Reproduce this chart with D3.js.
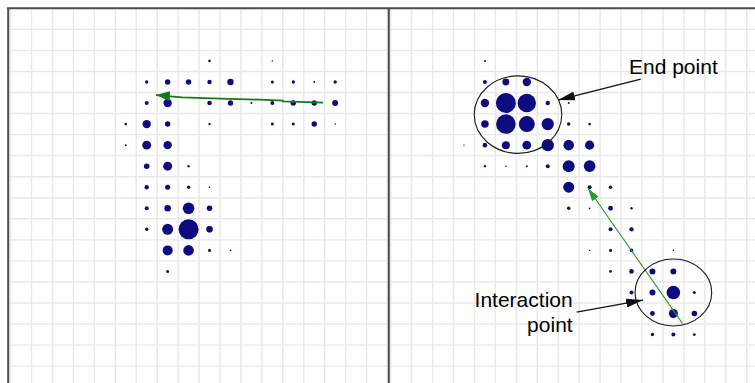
<!DOCTYPE html>
<html>
<head>
<meta charset="utf-8">
<script src="https://cdn.jsdelivr.net/npm/d3@7"></script>
<style>
  html, body { margin: 0; padding: 0; background: #fff; }
  svg { display: block; }
  text { font-family: "Liberation Sans", Arial, sans-serif; }
</style>
</head>
<body>
<svg id="chart" width="755" height="383"></svg>
<script>
// Hit maps on a cell grid: [column, row, hits]
const leftHits = [
  [9, 2, 1.7], [12, 2, 0.5],
  [6, 3, 2.9], [7, 3, 7.3], [8, 3, 7.3], [9, 3, 4.8], [10, 3, 10.2], [12, 3, 2.3], [13, 3, 2.9], [14, 3, 1], [15, 3, 2.9],
  [6, 4, 4], [7, 4, 17.6], [9, 4, 5.3], [10, 4, 7.3], [11, 4, 1], [12, 4, 4], [13, 4, 7.3], [14, 4, 7.3], [15, 4, 9],
  [5, 5, 1.7], [6, 5, 17.6], [7, 5, 7.3], [9, 5, 1.4], [12, 5, 2.3], [13, 5, 2.3], [14, 5, 7.3], [15, 5, 0.6],
  [5, 6, 1], [6, 6, 20], [7, 6, 17.6],
  [6, 7, 7.8], [7, 7, 20], [8, 7, 1.4],
  [6, 8, 4.8], [7, 8, 6.3], [8, 8, 2.9], [9, 8, 0.6],
  [6, 9, 4], [7, 9, 11], [8, 9, 34], [9, 9, 7.8],
  [6, 10, 2.9], [7, 10, 30], [8, 10, 100], [9, 10, 11],
  [7, 11, 25], [8, 11, 28], [9, 11, 2.3], [10, 11, 0.6],
  [7, 12, 2.3]
];

const rightHits = [
  [4, 2, 1],
  [4, 3, 4], [5, 3, 12], [6, 3, 17.6],
  [4, 4, 17.6], [5, 4, 100], [6, 4, 85], [7, 4, 4.8], [8, 4, 1],
  [4, 5, 14.4], [5, 5, 96], [6, 5, 64], [7, 5, 38], [8, 5, 3.2], [9, 5, 1.7],
  [3, 6, 0.5], [4, 6, 5.3], [5, 6, 16], [6, 6, 19.4], [7, 6, 38], [8, 6, 28], [9, 6, 21],
  [4, 7, 1.4], [5, 7, 0.6], [6, 7, 1], [7, 7, 4], [8, 7, 36], [9, 7, 34],
  [8, 8, 30], [9, 8, 4], [10, 8, 3.2],
  [8, 9, 2.9], [9, 9, 0.8], [10, 9, 5.8], [11, 9, 1.4],
  [10, 10, 4], [11, 10, 4.8],
  [9, 11, 0.5], [10, 11, 2.3], [11, 11, 3.2], [13, 11, 0.6],
  [10, 12, 2], [11, 12, 5.3], [12, 12, 9], [13, 12, 9],
  [11, 13, 4], [12, 13, 9], [13, 13, 46], [14, 13, 2.3],
  [12, 14, 5.8], [13, 14, 20], [14, 14, 7.8],
  [12, 15, 2.9], [13, 15, 4], [14, 15, 2]
];

// Tracked motion paths (cell units)
const leftTrack = [[14.93, 4.48], [13.0, 4.42], [13.0, 4.38], [11.9, 4.34], [10.0, 4.29], [8.2, 4.23], [6.94, 4.12]];
const rightTrack = [[13.93, 14.97], [9.42, 8.55]];

// Highlighted regions: [cx, cy, rx, ry] in cells
const regions = [[6.08, 5.05, 2.09, 1.84], [13.5, 13.5, 1.83, 1.59]];

// Callouts: label lines, text anchor cell, arrow from/to cells
const callouts = [
  { lines: ["End point"], anchor: "start", at: [11.38, 3.10], from: [11.94, 3.37], to: [7.99, 4.36] },
  { lines: ["Interaction", "point"], anchor: "end", at: [8.69, 14.18], from: [8.88, 14.43], to: [12.05, 13.86] }
];

const svg = d3.select("#chart");
const W = 755, H = 383;
const cols = 18, rows = 18;
const topY = 8.3;

const panels = [
  { hits: leftHits, track: leftTrack, trackW: 1.8, color: "#137d13", head: [14, 5],
    x: d3.scaleLinear().domain([0, cols]).range([10.6, 10.6 + cols * 20.94]), left: 8, right: 388.5 },
  { hits: rightHits, track: rightTrack, trackW: 1.1, color: "#2a9a2a", head: [13, 4],
    x: d3.scaleLinear().domain([0, cols]).range([390.7, 390.7 + cols * 20.94]), left: 389, right: W }
];
const y = d3.scaleLinear().domain([0, rows]).range([topY, topY + rows * 21.05]);
const r = d3.scaleSqrt().domain([0, 100]).range([0, 10]);

const defs = svg.append("defs");
function arrowMarker(id, color, len, half) {
  defs.append("marker")
    .attr("id", id)
    .attr("markerUnits", "userSpaceOnUse")
    .attr("viewBox", `0 ${-half} ${len} ${half * 2}`)
    .attr("refX", len).attr("refY", 0)
    .attr("markerWidth", len).attr("markerHeight", half * 2)
    .attr("orient", "auto")
    .append("path")
    .attr("d", `M0,${-half}L${len},0L0,${half}Z`)
    .attr("fill", color);
}

panels.forEach((p, i) => {
  const g = svg.append("g");
  const clipId = "clip" + i;
  defs.append("clipPath").attr("id", clipId)
    .append("rect").attr("x", p.left).attr("y", topY).attr("width", p.right - p.left).attr("height", H - topY);
  const grid = g.append("g").attr("clip-path", `url(#${clipId})`)
    .attr("stroke", "#e8e8e8").attr("stroke-width", 1.4);
  grid.selectAll("line.v").data(d3.range(0, cols + 1)).join("line")
    .attr("class", "v")
    .attr("x1", d => p.x(d)).attr("x2", d => p.x(d))
    .attr("y1", topY).attr("y2", H);
  grid.selectAll("line.h").data(d3.range(1, rows + 1)).join("line")
    .attr("class", "h")
    .attr("x1", p.left).attr("x2", p.right)
    .attr("y1", d => y(d)).attr("y2", d => y(d));

  g.append("g").selectAll("circle").data(p.hits).join("circle")
    .attr("cx", d => p.x(d[0] + 0.5))
    .attr("cy", d => y(d[1] + 0.5))
    .attr("r", d => r(d[2]))
    .attr("fill", "#0c0c80");

  arrowMarker("track" + i, p.color, p.head[0], p.head[1]);
  g.append("path")
    .datum(p.track)
    .attr("d", d3.line().x(d => p.x(d[0])).y(d => y(d[1])))
    .attr("fill", "none")
    .attr("stroke", p.color)
    .attr("stroke-width", p.trackW)
    .attr("marker-end", `url(#track${i})`);
});

// Annotations on the right panel
const xr = panels[1].x;
svg.append("g").selectAll("ellipse").data(regions).join("ellipse")
  .attr("cx", d => xr(d[0])).attr("cy", d => y(d[1]))
  .attr("rx", d => xr(d[2]) - xr(0)).attr("ry", d => y(d[3]) - y(0))
  .attr("fill", "none").attr("stroke", "#1a1a1a").attr("stroke-width", 1.1);

arrowMarker("callout", "#111", 17, 4.5);
const ann = svg.append("g");
ann.selectAll("line").data(callouts).join("line")
  .attr("x1", d => xr(d.from[0])).attr("y1", d => y(d.from[1]))
  .attr("x2", d => xr(d.to[0])).attr("y2", d => y(d.to[1]))
  .attr("stroke", "#111").attr("stroke-width", 1.3)
  .attr("marker-end", "url(#callout)");
ann.selectAll("text").data(callouts).join("text")
  .attr("x", d => xr(d.at[0])).attr("y", d => y(d.at[1]))
  .attr("text-anchor", d => d.anchor)
  .attr("font-size", 21).attr("fill", "#000")
  .selectAll("tspan").data(d => d.lines.map(t => ({ t, x: xr(d.at[0]) }))).join("tspan")
  .attr("x", d => d.x).attr("dy", (d, k) => k ? 25 : 0)
  .text(d => d.t);

// Frame: top edge, left edge and the divider between the two views
const frame = svg.append("g").attr("stroke", "#4d4d4d").attr("stroke-width", 2);
frame.append("line").attr("x1", 7).attr("x2", W).attr("y1", topY).attr("y2", topY);
frame.append("line").attr("x1", 8.2).attr("x2", 8.2).attr("y1", topY).attr("y2", H);
frame.append("line").attr("x1", 388.8).attr("x2", 388.8).attr("y1", topY).attr("y2", H);
</script>
</body>
</html>
